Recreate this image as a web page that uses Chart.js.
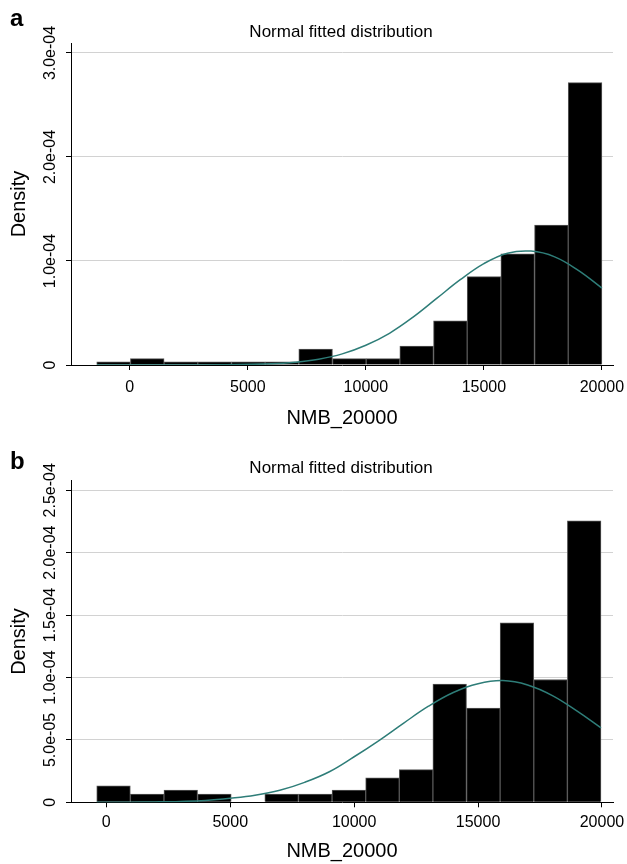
<!DOCTYPE html>
<html>
<head>
<meta charset="utf-8">
<script src="https://cdn.jsdelivr.net/npm/chart.js@4.4.0/dist/chart.umd.min.js"></script>
<style>
  body { margin: 0; background: #fff; width: 627px; height: 864px; overflow: hidden; }
  .panel { position: absolute; left: 0; width: 627px; height: 432px; }
</style>
</head>
<body>
<div class="panel" style="top:0"><canvas id="chartA" width="627" height="432"></canvas></div>
<div class="panel" style="top:432px"><canvas id="chartB" width="627" height="432"></canvas></div>
<script>
const FONT = "'Liberation Sans', Arial, sans-serif";

// panel a: histogram bins (centres) and densities
const binsA = [-687, 740, 2167, 3593, 5020, 6447, 7873, 9300, 10727, 12153, 13580, 15007, 16433, 17860, 19287];
const densA = [3.1e-6, 6.1e-6, 3.1e-6, 3.1e-6, 3.1e-6, 3.1e-6, 1.52e-5, 6.1e-6, 6.1e-6, 1.83e-5, 4.25e-5, 8.5e-5, 1.07e-4, 1.345e-4, 2.715e-4];
// panel a: fitted normal curve
const curveXA = [-1400, 0, 2000, 4000, 6000, 7000, 8000, 9000, 10000, 11000, 12000, 13000, 14000, 15000, 16000, 17000, 18000, 19000, 20000];
const curveYA = [0, 0, 2e-8, 2e-7, 1.2e-6, 2.7e-6, 5.6e-6, 1.07e-5, 1.9e-5, 3.05e-5, 4.6e-5, 6.4e-5, 8.2e-5, 9.75e-5, 1.075e-4, 1.095e-4, 1.04e-4, 9.1e-5, 7.4e-5];
const yTicksA = [0, 1e-4, 2e-4, 3e-4];
const yLabelsA = ['0', '1.0e-04', '2.0e-04', '3.0e-04'];

// panel b
const binsB = [291, 1648, 3004, 4361, 5717, 7074, 8430, 9787, 11143, 12500, 13856, 15213, 16569, 17926, 19282];
const densB = [1.31e-5, 6.5e-6, 9.8e-6, 6.5e-6, 0, 6.5e-6, 6.5e-6, 9.8e-6, 1.96e-5, 2.62e-5, 9.48e-5, 7.55e-5, 1.439e-4, 9.84e-5, 2.256e-4];
const curveXB = [-387, 1000, 2000, 3000, 4000, 5000, 6000, 7000, 8000, 9000, 10000, 11000, 12000, 13000, 14000, 15000, 16000, 17000, 18000, 19000, 19960];
const curveYB = [4e-8, 1.4e-7, 3.4e-7, 7.4e-7, 1.5e-6, 3.2e-6, 5.6e-6, 9.6e-6, 1.6e-5, 2.45e-5, 3.65e-5, 4.95e-5, 6.35e-5, 7.7e-5, 8.8e-5, 9.5e-5, 9.75e-5, 9.4e-5, 8.55e-5, 7.3e-5, 5.96e-5];
const yTicksB = [0, 5e-5, 1e-4, 1.5e-4, 2e-4, 2.5e-4];
const yLabelsB = ['0', '5.0e-05', '1.0e-04', '1.5e-04', '2.0e-04', '2.5e-04'];

const xTicks = [0, 5000, 10000, 15000, 20000];
const chartTitle = 'Normal fitted distribution';
const xTitle = 'NMB_20000';
const yTitle = 'Density';

// rotated y tick labels, panel letter and the small title
const panelText = {
  id: 'panelText',
  afterDraw(chart, args, o) {
    const { ctx, chartArea } = chart;
    const y = chart.scales.y;
    ctx.save();
    ctx.fillStyle = '#000';
    ctx.font = '16px ' + FONT;
    ctx.textAlign = 'center';
    ctx.textBaseline = 'middle';
    o.yTicks.forEach((v, i) => {
      ctx.save();
      ctx.translate(50.5, y.getPixelForValue(v));
      ctx.rotate(-Math.PI / 2);
      ctx.fillText(o.yLabels[i], 0, 0);
      ctx.restore();
    });
    ctx.textBaseline = 'alphabetic';
    ctx.font = '17px ' + FONT;
    ctx.fillText(chartTitle, (chartArea.left + chartArea.right) / 2 - 1, o.titleY);
    ctx.font = 'bold 24px ' + FONT;
    ctx.textAlign = 'left';
    ctx.fillText(o.letter, 10, o.letterY);
    ctx.restore();
  }
};

function makeChart(id, p) {
  return new Chart(document.getElementById(id), {
    type: 'bar',
    data: {
      datasets: [
        {
          type: 'line',
          data: p.curveX.map((x, i) => ({ x, y: p.curveY[i] })),
          borderColor: '#2e7d78',
          borderWidth: 1.5,
          pointRadius: 0,
          tension: 0.4,
          fill: false,
          order: 0
        },
        {
          type: 'bar',
          data: p.bins.map((x, i) => ({ x, y: p.dens[i] })),
          backgroundColor: '#000',
          borderColor: '#555',
          borderWidth: 1,
          barPercentage: 1,
          categoryPercentage: 1,
          order: 1
        }
      ]
    },
    options: {
      responsive: false,
      animation: false,
      layout: { padding: { left: 7, right: 14, top: p.padTop, bottom: 0 } },
      plugins: {
        legend: { display: false },
        tooltip: { enabled: false },
        panelText: { yTicks: p.yTicks, yLabels: p.yLabels, titleY: p.titleY, letter: p.letter, letterY: p.letterY }
      },
      scales: {
        x: {
          type: 'linear',
          offset: false,
          min: p.xMin,
          max: p.xMax,
          afterBuildTicks: s => { s.ticks = xTicks.map(v => ({ value: v })); },
          afterFit: s => { s.height = p.xAxisHeight; s.paddingLeft = 0; s.paddingRight = 0; },
          grid: { offset: false, drawOnChartArea: false, drawTicks: true, tickLength: 5, tickColor: '#000' },
          border: { display: true, color: '#000', width: 1 },
          ticks: { color: '#000', font: { family: FONT, size: 16 }, padding: p.tickPad, maxRotation: 0, autoSkip: false, callback: v => String(v) },
          title: { display: true, text: xTitle, color: '#000', font: { family: FONT, size: 20 }, padding: { top: 0, bottom: p.titlePad } }
        },
        y: {
          min: 0,
          max: p.yMax,
          afterBuildTicks: s => { s.ticks = p.yTicks.map(v => ({ value: v })); },
          afterFit: s => { s.width = 64; s.paddingTop = 0; s.paddingBottom = 0; },
          grid: {
            color: ctx => (ctx.tick && ctx.tick.value === 0) ? 'rgba(0,0,0,0)' : '#d2d2d2',
            drawTicks: true, tickLength: 5, tickColor: '#000'
          },
          border: { display: true, color: '#000', width: 1 },
          ticks: { display: false },
          title: { display: true, text: yTitle, color: '#000', font: { family: FONT, size: 20 }, padding: 0 }
        }
      }
    },
    plugins: [panelText]
  });
}

makeChart('chartA', {
  bins: binsA, dens: densA, curveX: curveXA, curveY: curveYA,
  yTicks: yTicksA, yLabels: yLabelsA, letter: 'a',
  xMin: -2490, xMax: 20470, yMax: 3.096e-4,
  padTop: 43, xAxisHeight: 67, tickPad: 7.5, titlePad: 2, titleY: 37.3, letterY: 25.7
});

makeChart('chartB', {
  bins: binsB, dens: densB, curveX: curveXB, curveY: curveYB,
  yTicks: yTicksB, yLabels: yLabelsB, letter: 'b',
  xMin: -1425, xMax: 20445, yMax: 2.577e-4,
  padTop: 48.7, xAxisHeight: 61.7, tickPad: 6, titlePad: 1, titleY: 41, letterY: 37
});
</script>
</body>
</html>
